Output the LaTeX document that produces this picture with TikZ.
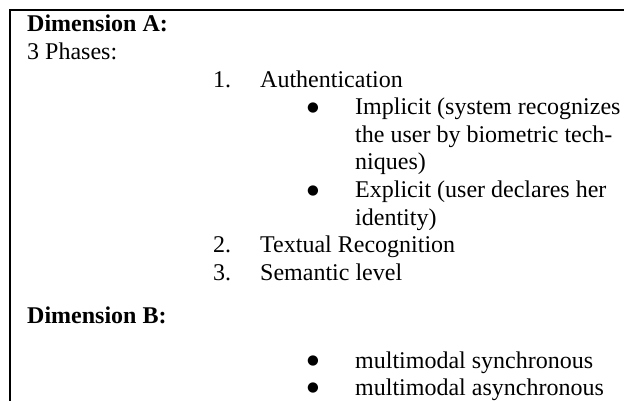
\documentclass[tikz,border=0pt]{standalone}
\usepackage{fontspec}
\setmainfont{Liberation Serif}
\newfontfamily\symfont{DejaVu Sans}
\begin{document}
\begin{tikzpicture}[x=1pt,y=-1pt,
  txt/.style={anchor=base west, inner sep=0pt, font=\fontsize{24}{27.6}\selectfont},
  hd/.style={anchor=base west, inner sep=0pt, font=\fontsize{24}{27.6}\selectfont\bfseries},
  bul/.style={anchor=base, inner sep=0pt, font=\symfont\fontsize{13.5}{13.5}\selectfont, yshift=3.5pt},
  rule/.style={line width=1.8pt, line join=miter}]
\useasboundingbox (0,0) rectangle (624,401);
\fill[white] (0,0) rectangle (624,401);
\coordinate (tr) at (624,10);
\coordinate (tl) at (10,10);
\coordinate (bl) at (10,401);
\draw[rule] (tr) -- (tl) -- (bl);

\node[hd]  (dA) at (27,32)    {Dimension A:};
\node[txt] (ph) at (27,59.6)  {3 Phases:};
\node[txt] (n1) at (213,87.2) {1.};
\node[txt] (t1) at (260,87.2) {Authentication};
\node[bul] (b1) at (313,114.8) {●};
\node[txt] (i1) at (355,114.8) {Implicit (system recognizes};
\node[txt] (i2) at (355,142.4) {the user by biometric tech-};
\node[txt] (i3) at (355,170)   {niques)};
\node[bul] (b2) at (313,197.6) {●};
\node[txt] (e1) at (355,197.6) {Explicit (user declares her};
\node[txt] (e2) at (355,225.2) {identity)};
\node[txt] (n2) at (213,252.8) {2.};
\node[txt] (t2) at (260,252.8) {Textual Recognition};
\node[txt] (n3) at (213,280.4) {3.};
\node[txt] (t3) at (260,280.4) {Semantic level};
\node[hd]  (dB) at (27,323)    {Dimension B:};
\node[bul] (b3) at (313,368)   {●};
\node[txt] (m1) at (355,368)   {multimodal synchronous};
\node[bul] (b4) at (313,395) {●};
\node[txt] (m2) at (355,395) {multimodal asynchronous};
\end{tikzpicture}
\end{document}
